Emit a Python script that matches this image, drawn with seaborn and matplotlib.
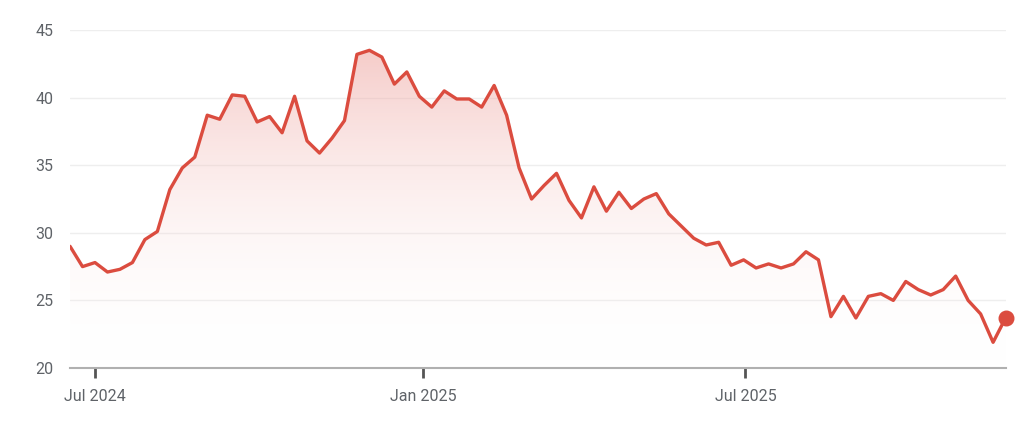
import numpy as np
import pandas as pd
import matplotlib
matplotlib.use("Agg")
import matplotlib.pyplot as plt
import matplotlib.dates as mdates
from matplotlib.colors import LinearSegmentedColormap
import seaborn as sns

# weekly closing values
start_date = "2024-06-17"
prices = [
    29.0, 27.5, 27.8, 27.1, 27.3, 27.8, 29.5, 30.1, 33.2, 34.8,
    35.6, 38.7, 38.4, 40.2, 40.1, 38.2, 38.6, 37.4, 40.1, 36.8,
    35.9, 37.0, 38.3, 43.2, 43.5, 43.0, 41.0, 41.9, 40.1, 39.3,
    40.5, 39.9, 39.9, 39.3, 40.9, 38.7, 34.8, 32.5, 33.5, 34.4,
    32.4, 31.1, 33.4, 31.6, 33.0, 31.8, 32.5, 32.9, 31.4, 30.5,
    29.6, 29.1, 29.3, 27.6, 28.0, 27.4, 27.7, 27.4, 27.7, 28.6,
    28.0, 23.8, 25.3, 23.7, 25.3, 25.5, 25.0, 26.4, 25.8, 25.4,
    25.8, 26.8, 25.0, 24.0, 21.9, 23.7,
]
y_ticks = [20, 25, 30, 35, 40, 45]
x_ticks = ["2024-07-01", "2025-01-01", "2025-07-01"]
x_tick_labels = ["Jul 2024", "Jan 2025", "Jul 2025"]

df = pd.DataFrame({
    "date": pd.date_range(start_date, periods=len(prices), freq="7D"),
    "price": prices,
})

line_color = "#db4c3f"
text_color = "#5f6368"

sns.set_style("white")
plt.rcParams["font.family"] = ["Roboto", "DejaVu Sans"]

fig = plt.figure(figsize=(10.24, 4.23), dpi=100)
ax = fig.add_axes([0.0684, 0.130, 0.9136, 0.799])

ymin, ymax = 20, 45
x0 = mdates.date2num(df["date"].iloc[0])
x1 = mdates.date2num(df["date"].iloc[-1])

# gradient fill under the line
fill = ax.fill_between(df["date"], df["price"], ymin, color="none", lw=0)
grad = np.linspace(0, 1, 256).reshape(-1, 1)
cmap = LinearSegmentedColormap.from_list(
    "fade", [(1, 1, 1, 0.0), (0.93, 0.62, 0.60, 0.55)])
img = ax.imshow(grad, cmap=cmap, aspect="auto", origin="lower",
                extent=[x0, x1, ymin, 44], zorder=1)
path = fill.get_paths()[0]
img.set_clip_path(path, ax.transData)

sns.lineplot(data=df, x="date", y="price", ax=ax, color=line_color,
             linewidth=2.4, zorder=3)
ax.scatter(df["date"].iloc[-1], df["price"].iloc[-1], s=110,
           color=line_color, zorder=4, clip_on=False)

ax.set_xlim(x0, x1)
ax.set_ylim(ymin, ymax)
ax.set_yticks(y_ticks)
ax.set_xticks([mdates.date2num(pd.Timestamp(d)) for d in x_ticks])
ax.set_xticklabels(x_tick_labels)

for v in y_ticks[1:]:
    ax.axhline(v, color="#eeeeee", linewidth=1, zorder=0)

for side in ["top", "right", "left"]:
    ax.spines[side].set_visible(False)
ax.spines["bottom"].set_color("#b0b0b0")
ax.spines["bottom"].set_linewidth(1.5)

ax.tick_params(axis="x", bottom=True, length=7, width=2, color="#555555",
               labelcolor=text_color, labelsize=11.5, pad=8, direction="out")
ax.tick_params(axis="y", left=False, length=0, labelcolor=text_color,
               labelsize=11.5, pad=12)
ax.set_xlabel("")
ax.set_ylabel("")

fig.savefig("out.png", dpi=100, facecolor="white")
